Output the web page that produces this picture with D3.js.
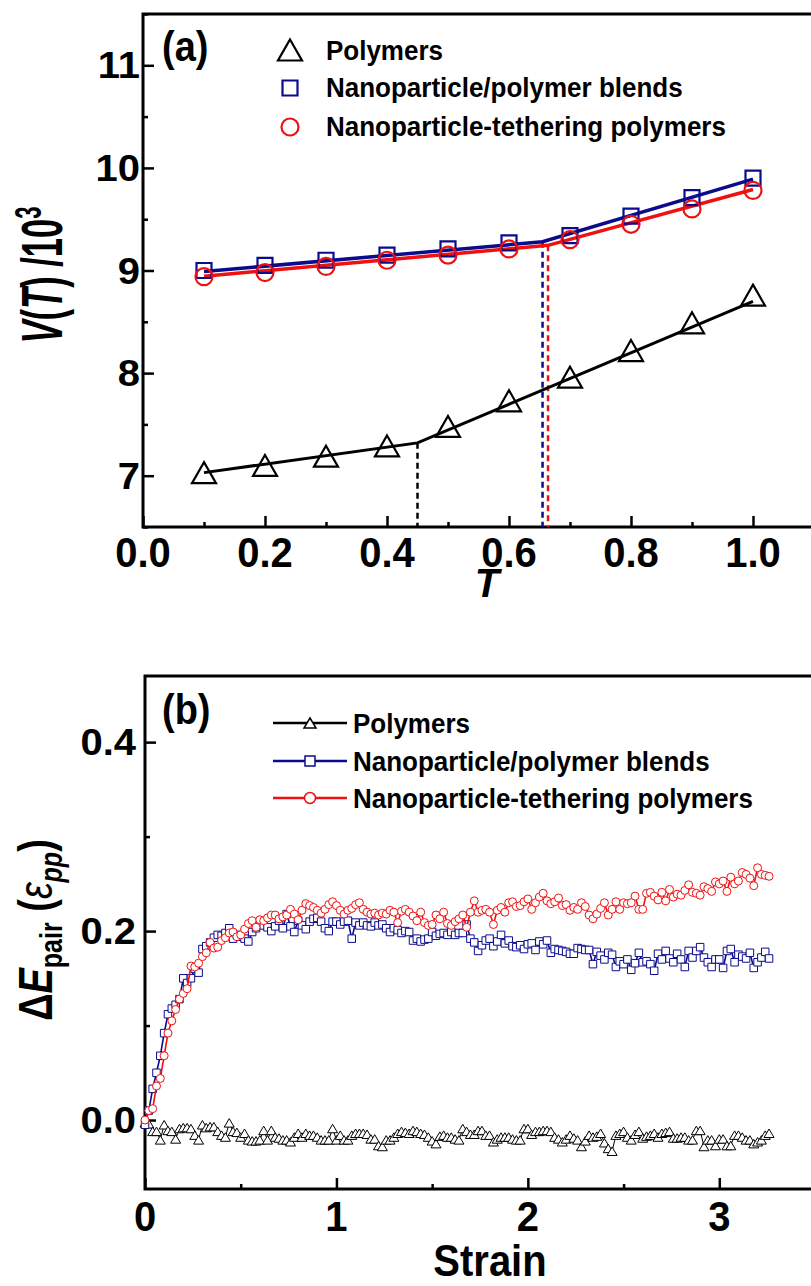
<!DOCTYPE html>
<html><head><meta charset="utf-8">
<script src="https://cdn.jsdelivr.net/npm/d3@7/dist/d3.min.js"></script>
<style>
body{margin:0;background:#fff}
svg{display:block}
text{font-family:"Liberation Sans",Arial,Helvetica,sans-serif;font-weight:bold;fill:#000}
</style>
</head><body>
<svg id="chart" width="811" height="1286"></svg>
<script>
// ---------- Panel (a) data ----------
const tempT = [0.1,0.2,0.3,0.4,0.5,0.6,0.7,0.8,0.9,1.0];
const volPolymers = [7.03,7.10,7.19,7.29,7.48,7.73,7.96,8.22,8.49,8.76];
const volBlends   = [9.00,9.05,9.10,9.15,9.21,9.27,9.34,9.53,9.71,9.90];
const volTethered = [8.94,8.98,9.04,9.10,9.15,9.21,9.30,9.45,9.60,9.78];
// piecewise linear fits: [T start, T break, T end] and values
const fitT_polymers = [0.1,0.45,1.0];  const fitV_polymers = [7.03,7.32,8.70];
const fitT_blends   = [0.1,0.655,1.0]; const fitV_blends   = [8.99,9.28,9.89];
const fitT_tethered = [0.1,0.664,1.0]; const fitV_tethered = [8.945,9.245,9.79];
const xTicksA = [0,0.2,0.4,0.6,0.8,1.0];
const yTicksA = [7,8,9,10,11];
const seriesNames = ["Polymers","Nanoparticle/polymer blends","Nanoparticle-tethering polymers"];

// ---------- Panel (b) data ----------
const strainStep = 0.02; // strain sampled every 0.02 from 0
const ePolymers = [
-0.003,-0.004,-0.012,-0.012,-0.021,-0.005,-0.011,-0.012,-0.020,-0.009,
-0.008,-0.008,-0.009,-0.016,-0.021,-0.005,-0.008,-0.007,-0.007,-0.012,
-0.016,-0.018,-0.003,-0.012,-0.013,-0.018,-0.014,-0.021,-0.022,-0.022,
-0.021,-0.011,-0.021,-0.011,-0.018,-0.019,-0.021,-0.021,-0.023,-0.018,
-0.014,-0.018,-0.014,-0.016,-0.016,-0.018,-0.021,-0.021,-0.021,-0.009,
-0.021,-0.016,-0.021,-0.021,-0.016,-0.014,-0.014,-0.014,-0.015,-0.020,
-0.020,-0.027,-0.028,-0.021,-0.021,-0.018,-0.014,-0.012,-0.013,-0.014,
-0.011,-0.012,-0.014,-0.015,-0.018,-0.022,-0.025,-0.017,-0.016,-0.018,
-0.018,-0.020,-0.021,-0.009,-0.012,-0.015,-0.015,-0.011,-0.011,-0.016,
-0.016,-0.023,-0.020,-0.018,-0.018,-0.018,-0.020,-0.021,-0.021,-0.009,
-0.009,-0.015,-0.012,-0.012,-0.011,-0.011,-0.012,-0.018,-0.020,-0.023,
-0.020,-0.016,-0.019,-0.021,-0.028,-0.022,-0.016,-0.018,-0.017,-0.014,
-0.024,-0.030,-0.033,-0.016,-0.014,-0.012,-0.018,-0.021,-0.015,-0.012,
-0.019,-0.017,-0.016,-0.014,-0.018,-0.014,-0.013,-0.012,-0.019,-0.019,
-0.018,-0.018,-0.021,-0.021,-0.011,-0.011,-0.028,-0.021,-0.021,-0.027,
-0.020,-0.020,-0.027,-0.027,-0.016,-0.016,-0.018,-0.021,-0.021,-0.025,
-0.023,-0.021,-0.016,-0.014];
const eBlends = [
-0.005,0.010,0.033,0.050,0.068,0.092,0.112,0.118,0.122,0.128,
0.150,0.145,0.150,0.160,0.156,0.181,0.184,0.188,0.193,0.196,
0.195,0.198,0.203,0.192,0.196,0.194,0.192,0.189,0.199,0.203,
0.207,0.206,0.204,0.200,0.205,0.211,0.203,0.218,0.205,0.199,
0.211,0.206,0.202,0.210,0.213,0.214,0.210,0.203,0.200,0.210,
0.210,0.207,0.210,0.211,0.192,0.209,0.206,0.209,0.206,0.205,
0.209,0.206,0.207,0.203,0.199,0.203,0.201,0.198,0.200,0.199,
0.190,0.192,0.189,0.191,0.192,0.199,0.195,0.197,0.198,0.196,
0.199,0.196,0.198,0.198,0.207,0.192,0.188,0.179,0.185,0.190,
0.192,0.184,0.189,0.196,0.187,0.190,0.184,0.183,0.185,0.181,
0.186,0.187,0.180,0.189,0.186,0.190,0.177,0.181,0.180,0.179,
0.178,0.176,0.176,0.182,0.181,0.180,0.180,0.165,0.178,0.174,
0.170,0.177,0.175,0.162,0.168,0.165,0.170,0.159,0.166,0.177,
0.167,0.168,0.165,0.158,0.176,0.170,0.179,0.171,0.167,0.176,
0.170,0.162,0.179,0.172,0.179,0.183,0.172,0.167,0.162,0.170,
0.170,0.161,0.179,0.181,0.167,0.175,0.173,0.171,0.177,0.161,
0.167,0.172,0.178,0.171];
const eTethered = [
0.000,0.010,0.012,0.036,0.044,0.068,0.092,0.105,0.117,0.128,
0.134,0.139,0.163,0.162,0.166,0.173,0.177,0.188,0.182,0.183,
0.190,0.193,0.198,0.199,0.194,0.196,0.202,0.208,0.211,0.204,
0.212,0.211,0.214,0.217,0.217,0.213,0.215,0.217,0.223,0.218,
0.212,0.222,0.229,0.227,0.225,0.222,0.219,0.223,0.228,0.231,
0.227,0.222,0.218,0.222,0.224,0.228,0.230,0.223,0.220,0.218,
0.219,0.217,0.219,0.218,0.222,0.220,0.209,0.221,0.223,0.220,
0.216,0.211,0.220,0.209,0.206,0.207,0.217,0.213,0.220,0.208,
0.206,0.210,0.213,0.217,0.204,0.220,0.232,0.220,0.222,0.223,
0.220,0.207,0.222,0.225,0.220,0.230,0.231,0.226,0.227,0.231,
0.234,0.223,0.230,0.236,0.240,0.232,0.229,0.231,0.235,0.227,
0.228,0.222,0.225,0.223,0.230,0.226,0.217,0.213,0.218,0.224,
0.230,0.217,0.223,0.231,0.223,0.230,0.229,0.230,0.237,0.223,
0.223,0.240,0.241,0.237,0.233,0.241,0.232,0.244,0.236,0.239,
0.238,0.243,0.249,0.241,0.240,0.238,0.247,0.245,0.242,0.252,
0.250,0.253,0.242,0.257,0.250,0.253,0.262,0.260,0.256,0.248,
0.267,0.260,0.259,0.258];
const xTicksB = [0,1,2,3];
const yTicksB = [0,0.2,0.4];

// ---------- styles ----------
const BLACK = "#000", BLUE = "#0b0b8c", RED = "#f01010";
const svg = d3.select("#chart");

function txt(parent, x, y, str, size, anchor, sy, sx) {
  return parent.append("text")
    .attr("transform", `translate(${x},${y}) scale(${sx||1},${sy||1})`)
    .attr("text-anchor", anchor).attr("font-size", size).text(str);
}
function triPath(w,h){ return `M0,${-h/2}L${w/2},${h/2}L${-w/2},${h/2}Z`; }
function sqPath(s){ return `M${-s/2},${-s/2}h${s}v${s}h${-s}Z`; }
function circPath(r){ return `M${r},0A${r},${r},0,1,1,${-r},0A${r},${r},0,1,1,${r},0Z`; }

function ticks(g, axis, tf){
  const a = g.append("g").attr("transform", tf).call(axis);
  a.select(".domain").remove();
  a.selectAll("line").attr("stroke","#000").attr("stroke-width",2.5);
  a.selectAll("text").remove();
}

// ================= Panel (a) =================
const xA = d3.scaleLinear().domain([0,1.1]).range([143,814]);
const yA = d3.scaleLinear().domain([6.5,11.5]).range([527,14]);
const gA = svg.append("g");

ticks(gA, d3.axisBottom(xA).tickValues(xTicksA).tickSize(-11), `translate(0,${yA.range()[0]})`);
ticks(gA, d3.axisBottom(xA).tickValues(xTicksA.map(v=>v+0.1)).tickSize(-5), `translate(0,${yA.range()[0]})`);
ticks(gA, d3.axisLeft(yA).tickValues(yTicksA).tickSize(-11), `translate(${xA.range()[0]},0)`);
ticks(gA, d3.axisLeft(yA).tickValues(yTicksA.map(v=>v-0.5).concat([11.5])).tickSize(-5), `translate(${xA.range()[0]},0)`);

gA.append("rect").attr("x",xA.range()[0]).attr("y",yA.range()[1])
  .attr("width",xA.range()[1]-xA.range()[0]).attr("height",yA.range()[0]-yA.range()[1])
  .attr("fill","none").attr("stroke","#000").attr("stroke-width",3);

xTicksA.forEach(v=>txt(gA, xA(v), 567, d3.format(".1f")(v), 40, "middle", 1.07));
yTicksA.forEach(v=>txt(gA, 140, yA(v)+13, String(v), 40, "end", 0.92));

const fitsA = [
  {T:fitT_polymers, V:fitV_polymers, c:BLACK},
  {T:fitT_blends,   V:fitV_blends,   c:BLUE},
  {T:fitT_tethered, V:fitV_tethered, c:RED}
];
fitsA.forEach(f=>{
  gA.append("line").attr("x1",xA(f.T[1])).attr("x2",xA(f.T[1]))
    .attr("y1",yA(f.V[1])).attr("y2",yA(6.5))
    .attr("stroke",f.c).attr("stroke-width",2.5).attr("stroke-dasharray","6,4");
});
const lineA = d3.line().x(d=>xA(d[0])).y(d=>yA(d[1]));
fitsA.forEach(f=>{
  gA.append("path").attr("d", lineA(f.T.map((t,i)=>[t,f.V[i]])))
    .attr("fill","none").attr("stroke",f.c).attr("stroke-width",f.c===BLACK?3:3.5);
});
gA.selectAll(".mp").data(tempT).enter().append("path")
  .attr("d",triPath(24,21)).attr("transform",(d,i)=>`translate(${xA(d)},${yA(volPolymers[i])})`)
  .attr("fill","none").attr("stroke",BLACK).attr("stroke-width",2.2);
gA.selectAll(".mb").data(tempT).enter().append("path")
  .attr("d",sqPath(15)).attr("transform",(d,i)=>`translate(${xA(d)},${yA(volBlends[i])})`)
  .attr("fill","none").attr("stroke",BLUE).attr("stroke-width",2.2);
gA.selectAll(".mt").data(tempT).enter().append("path")
  .attr("d",circPath(8.5)).attr("transform",(d,i)=>`translate(${xA(d)},${yA(volTethered[i])})`)
  .attr("fill","none").attr("stroke",RED).attr("stroke-width",2.2);

const legA = [{p:triPath(24,21),c:BLACK,y:50},{p:sqPath(15),c:BLUE,y:88},{p:circPath(8.5),c:RED,y:127}];
legA.forEach((l,i)=>{
  gA.append("path").attr("d",l.p).attr("transform",`translate(290,${l.y})`)
    .attr("fill","none").attr("stroke",l.c).attr("stroke-width",2.2);
  txt(gA, 326, [60,97,136][i], seriesNames[i], 26, "start", 1.07);
});
txt(gA, 162, 61, "(a)", 38, "start", 1.1);

const tA = gA.append("text").attr("font-size",40).attr("text-anchor","middle")
  .attr("transform","translate(487,597)");
tA.append("tspan").attr("font-style","italic").text("T");
const yTitA = gA.append("text").attr("font-size",34.5).attr("text-anchor","middle")
  .attr("transform","translate(62,275) rotate(-90) scale(1,1.65)");
yTitA.append("tspan").attr("font-style","italic").text("V");
yTitA.append("tspan").text("(");
yTitA.append("tspan").attr("font-style","italic").text("T");
yTitA.append("tspan").text(") /10");
yTitA.append("tspan").attr("font-size",22).attr("dy",-13).text("3");

// ================= Panel (b) =================
const xB = d3.scaleLinear().domain([0,3.5]).range([145,815]);
const yB = d3.scaleLinear().domain([-0.073,0.47]).range([1189,676]);
const gB = svg.append("g");

ticks(gB, d3.axisBottom(xB).tickValues(xTicksB).tickSize(-11), `translate(0,${yB.range()[0]})`);
ticks(gB, d3.axisBottom(xB).tickValues(xTicksB.map(v=>v+0.5)).tickSize(-5), `translate(0,${yB.range()[0]})`);
ticks(gB, d3.axisLeft(yB).tickValues(yTicksB).tickSize(-11), `translate(${xB.range()[0]},0)`);
ticks(gB, d3.axisLeft(yB).tickValues([0.1,0.3]).tickSize(-5), `translate(${xB.range()[0]},0)`);

gB.append("rect").attr("x",xB.range()[0]).attr("y",yB.range()[1])
  .attr("width",xB.range()[1]-xB.range()[0]).attr("height",yB.range()[0]-yB.range()[1])
  .attr("fill","none").attr("stroke","#000").attr("stroke-width",3);

xTicksB.forEach(v=>txt(gB, xB(v), 1231, String(v), 40, "middle", 1.07));
yTicksB.forEach(v=>txt(gB, 136, yB(v)+13, d3.format(".1f")(v), 40, "end", 0.92));

const seriesB = [
  {v:ePolymers, c:BLACK, lw:1, m:triPath(10,8.5)},
  {v:eBlends,   c:BLUE,  lw:1.6, m:sqPath(7.5)},
  {v:eTethered, c:RED,   lw:1.6, m:circPath(4)}
];
const lineB = d3.line().x(d=>xB(d[0])).y(d=>yB(d[1]));
seriesB.forEach(s=>{
  const pts = s.v.map((v,i)=>[i*strainStep, v]);
  gB.append("path").attr("d",lineB(pts)).attr("fill","none").attr("stroke",s.c).attr("stroke-width",s.lw);
  gB.append("g").selectAll("path").data(pts).enter().append("path")
    .attr("d",s.m).attr("transform",d=>`translate(${xB(d[0])},${yB(d[1])})`)
    .attr("fill","#fff").attr("stroke",s.c).attr("stroke-width",1);
});

[723,761,798].forEach((y,i)=>{
  const s = seriesB[i];
  gB.append("line").attr("x1",273).attr("x2",347).attr("y1",y).attr("y2",y)
    .attr("stroke",s.c).attr("stroke-width",2.5);
  gB.append("path").attr("d", i===0?triPath(12,10):(i===1?sqPath(10):circPath(5.5)))
    .attr("transform",`translate(310,${y})`).attr("fill","#fff").attr("stroke",s.c).attr("stroke-width",1.5);
  txt(gB, 353, [733,771,808][i], seriesNames[i], 26, "start", 1.07);
});
txt(gB, 162, 724, "(b)", 38, "start", 1.1);

txt(gB, 490, 1276, "Strain", 40, "middle", 1.1);
const yTitB = gB.append("text").attr("font-size",38).attr("text-anchor","middle")
  .attr("transform","translate(52,930) rotate(-90) scale(1,1.25)");
yTitB.append("tspan").text("\u0394");
yTitB.append("tspan").attr("font-style","italic").text("E");
yTitB.append("tspan").attr("font-size",25).attr("dy",8).text("pair");
yTitB.append("tspan").attr("dy",-8).text(" (");
yTitB.append("tspan").attr("font-style","italic").attr("font-weight","normal").text("\u03B5");
yTitB.append("tspan").attr("font-style","italic").attr("font-size",25).attr("dy",8).text("pp");
yTitB.append("tspan").attr("dy",-8).text(")");
</script>
</body></html>
